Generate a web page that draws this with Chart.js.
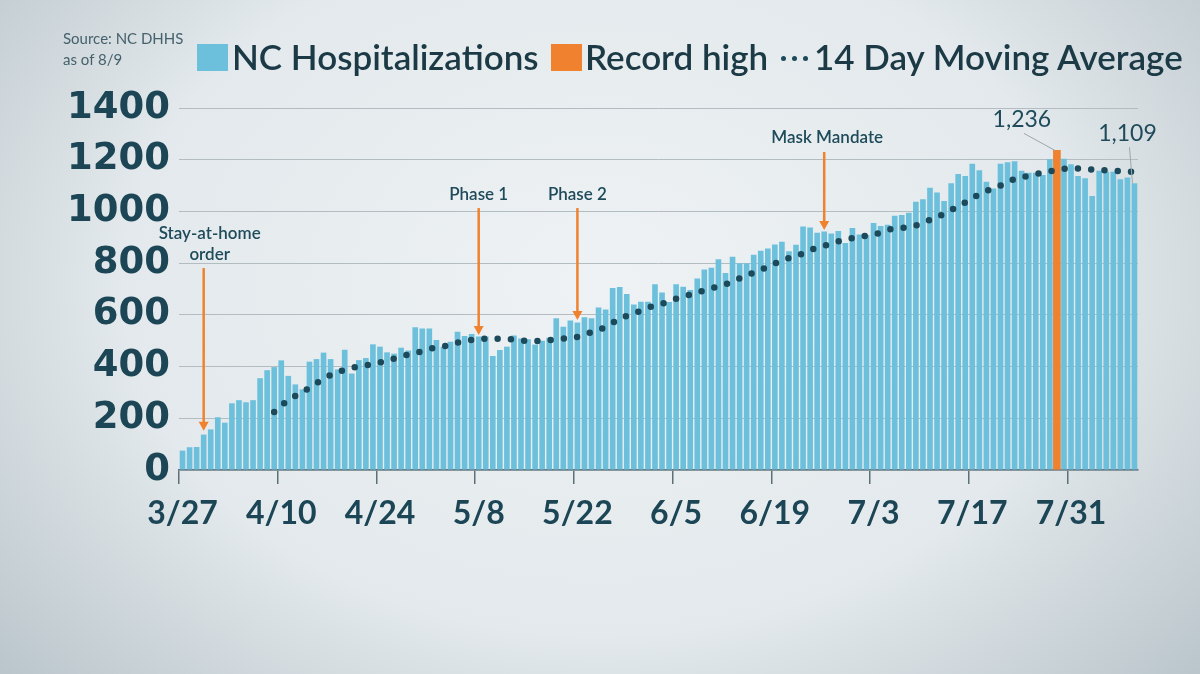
<!DOCTYPE html>
<html>
<head>
<meta charset="utf-8">
<title>NC Hospitalizations</title>
<script src="https://cdn.jsdelivr.net/npm/chart.js@4.4.0/dist/chart.umd.min.js"></script>
<style>
html, body { margin: 0; padding: 0; }
body {
  width: 1200px; height: 674px; overflow: hidden; position: relative;
  background: radial-gradient(ellipse 72% 95% at 50% 42%, #eef2f4 0%, #e3e9ec 55%, #b2bec5 100%);
  font-family: Lato, 'Open Sans', sans-serif;
}
#chart { position: absolute; left: 0; top: 0; }
.src { position: absolute; left: 63px; top: 28px; font-size: 15px; line-height: 21px; color: #45616c; }
.box { position: absolute; width: 31px; height: 27px; top: 44px; }
.leg { position: absolute; top: 36px; font-size: 35px; font-weight: 600; line-height: 40px; color: #1b3a46; white-space: nowrap; }
.dot { position: absolute; width: 5px; height: 5px; border-radius: 50%; background: #1c4a5b; top: 56px; }
</style>
</head>
<body>
<canvas id="chart" width="1200" height="674"></canvas>

<div class="src">Source: NC DHHS<br>as of 8/9</div>
<div class="box" style="left:197px;background:#6cc0dc"></div>
<div class="leg" style="left:232px">NC Hospitalizations</div>
<div class="box" style="left:551px;background:#f0822f"></div>
<div class="leg" style="left:585px">Record high</div>
<div class="dot" style="left:781px"></div>
<div class="dot" style="left:792px"></div>
<div class="dot" style="left:803px"></div>
<div class="leg" style="left:814px">14 Day Moving Average</div>

<script>
// daily hospitalizations, 3/27 .. 8/9
var hospitalizations = [
  75, 88, 89, 137, 157, 204, 183, 258, 270, 262,
  270, 355, 386, 398, 424, 364, 331, 312, 419, 429,
  454, 429, 389, 465, 373, 425, 433, 486, 477, 455,
  450, 473, 462, 552, 547, 547, 503, 477, 496, 535,
  518, 526, 516, 516, 441, 464, 477, 520, 509, 506,
  485, 500, 511, 587, 554, 578, 570, 591, 587, 628,
  621, 704, 708, 681, 640, 651, 651, 718, 686, 650,
  718, 709, 696, 741, 775, 782, 815, 762, 825, 800,
  800, 832, 848, 857, 872, 883, 846, 871, 942, 938,
  918, 922, 915, 924, 878, 936, 911, 909, 955, 944,
  948, 983, 986, 995, 1037, 1047, 1092, 1073, 1040, 1109,
  1145, 1137, 1184, 1159, 1115, 1089, 1184, 1190, 1194, 1157,
  1150, 1150, 1141, 1202, 1236, 1204, 1182, 1137, 1128, 1060,
  1157, 1153, 1153, 1124, 1131, 1109
];

// 14 day moving average
var movingAverage = [
  null, null, null, null, null, null, null, null, null, null,
  null, null, null, 224, 250, 269, 287, 302, 318, 336,
  352, 367, 378, 388, 395, 400, 405, 410, 416, 423,
  431, 439, 446, 452, 459, 467, 475, 479, 483, 492,
  499, 503, 505, 508, 508, 508, 507, 505, 502, 499,
  499, 499, 502, 505, 508, 511, 515, 524, 533, 543,
  552, 569, 584, 596, 606, 616, 627, 636, 643, 651,
  662, 670, 678, 685, 695, 703, 709, 718, 729, 741,
  751, 764, 774, 786, 798, 811, 820, 827, 838, 850,
  860, 867, 876, 884, 891, 897, 902, 906, 910, 918,
  929, 933, 936, 940, 946, 957, 967, 978, 991, 1005,
  1020, 1035, 1052, 1066, 1079, 1089, 1100, 1113, 1125, 1132,
  1138, 1144, 1150, 1155, 1161, 1165, 1167, 1166, 1164, 1162,
  1161, 1159, 1157, 1156, 1154, 1153
];

var recordIndex = 124;
var tickEvery = 14;

var dates = [];
for (var i = 0; i < hospitalizations.length; i++) {
  var d = new Date(2020, 2, 27 + i);
  dates.push((d.getMonth() + 1) + '/' + d.getDate());
}

// arrows: day index, text lines, arrow top and tip (in hospitalization units)
var notes = [
  { index: 3, lines: ['Stay-at-home', 'order'], from: 781, to: 152, dx: 6 },
  { index: 42, lines: ['Phase 1'], from: 1013, to: 522, dx: 0 },
  { index: 56, lines: ['Phase 2'], from: 1013, to: 580, dx: 0 },
  { index: 91, lines: ['Mask Mandate'], from: 1230, to: 928, dx: 3 }
];
// value callouts: day index, text offset from bar top
var callouts = [
  { index: 124, dx: -35, dy: -31 },
  { index: 135, dx: -7, dy: -50 }
];

var blue = '#6cc0dc';
var orange = '#f0822f';
var dark = '#1c4656';
var dotColor = '#1c4a5b';

var blueSeries = hospitalizations.map(function (v, i) { return i === recordIndex ? null : v; });
var recordSeries = hospitalizations.map(function (v, i) { return i === recordIndex ? v : null; });

var notesPlugin = {
  id: 'notes',
  afterDatasetsDraw: function (chart) {
    var ctx = chart.ctx;
    var x = chart.scales.x, y = chart.scales.y;
    ctx.save();
    notes.forEach(function (n) {
      var px = x.getPixelForValue(n.index);
      var top = y.getPixelForValue(n.from);
      var tip = y.getPixelForValue(n.to);
      ctx.strokeStyle = orange;
      ctx.lineWidth = 2.5;
      ctx.beginPath();
      ctx.moveTo(px, top);
      ctx.lineTo(px, tip - 7);
      ctx.stroke();
      ctx.fillStyle = orange;
      ctx.beginPath();
      ctx.moveTo(px - 5, tip - 9);
      ctx.lineTo(px + 5, tip - 9);
      ctx.lineTo(px, tip);
      ctx.closePath();
      ctx.fill();
      ctx.font = '600 17px Lato';
      ctx.fillStyle = '#1e4a5a';
      ctx.textAlign = 'center';
      ctx.textBaseline = 'middle';
      n.lines.forEach(function (t, k) {
        ctx.fillText(t, px + n.dx, top - 14 - (n.lines.length - 1 - k) * 21);
      });
    });
    callouts.forEach(function (c) {
      var v = hospitalizations[c.index];
      var px = x.getPixelForValue(c.index);
      var py = y.getPixelForValue(v);
      var tx = px + c.dx, ty = py + c.dy;
      ctx.strokeStyle = '#9aa7ad';
      ctx.lineWidth = 1;
      ctx.beginPath();
      ctx.moveTo(tx + 2, ty + 14);
      ctx.lineTo(px - 2, py);
      ctx.stroke();
      ctx.font = '23px Lato';
      ctx.fillStyle = '#1e4a5a';
      ctx.textAlign = 'center';
      ctx.textBaseline = 'middle';
      ctx.fillText(v.toLocaleString('en-US'), tx, ty);
    });
    ctx.restore();
  }
};

var ctx = document.getElementById('chart').getContext('2d');
var myChart = new Chart(ctx, {
  type: 'bar',
  data: {
    labels: dates,
    datasets: [
      {
        type: 'line',
        label: '14 Day Moving Average',
        data: movingAverage,
        borderColor: dotColor,
        borderWidth: 6.5,
        borderDash: [0, 13.3],
        borderCapStyle: 'round',
        pointRadius: 0,
        cubicInterpolationMode: 'monotone',
        order: 0
      },
      {
        label: 'Record high',
        data: recordSeries,
        backgroundColor: orange,
        barPercentage: 1,
        categoryPercentage: 1,
        grouped: false,
        order: 1
      },
      {
        label: 'NC Hospitalizations',
        data: blueSeries,
        backgroundColor: blue,
        barPercentage: 0.8,
        categoryPercentage: 1,
        grouped: false,
        order: 2
      }
    ]
  },
  options: {
    responsive: false,
    animation: false,
    layout: { padding: { left: 0, right: 62, top: 108, bottom: 0 } },
    plugins: {
      legend: { display: false },
      tooltip: { enabled: false }
    },
    scales: {
      x: {
        grid: {
          offset: true,
          drawOnChartArea: false,
          tickLength: 14,
          lineWidth: 1.5,
          color: function (c) { return c.index % tickEvery === 0 ? '#5d7079' : 'rgba(0,0,0,0)'; }
        },
        border: { display: true, color: '#5d7079', width: 1.5 },
        ticks: {
          autoSkip: false,
          maxRotation: 0,
          padding: 10,
          color: dark,
          font: { family: 'Lato', weight: 'bold', size: 32 },
          callback: function (v, i) { return i % tickEvery === 0 ? dates[i] : ''; }
        },
        afterFit: function (s) { s.height = 204; }
      },
      y: {
        min: 0,
        max: 1400,
        ticks: {
          stepSize: 200,
          padding: 9,
          color: dark,
          font: { family: "'DejaVu Sans'", weight: 'bold', size: 37 },
          callback: function (v) { return String(v); }
        },
        grid: { color: '#b3bcc1', drawTicks: false, lineWidth: 1 },
        border: { display: false },
        afterFit: function (s) { s.width = 179; }
      }
    }
  },
  plugins: [notesPlugin]
});
</script>
</body>
</html>
